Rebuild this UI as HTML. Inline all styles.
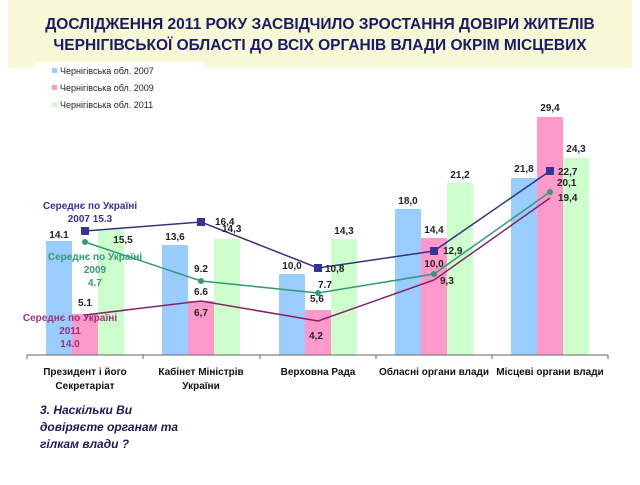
<!DOCTYPE html>
<html><head><meta charset="utf-8"><style>
body{margin:0;width:640px;height:480px;background:#fff;overflow:hidden;font-family:"Liberation Sans",sans-serif}
</style></head><body>
<svg width="640" height="480" xmlns="http://www.w3.org/2000/svg" font-family="Liberation Sans, sans-serif">
<rect x="0" y="0" width="640" height="480" fill="#fff"/>
<rect x="8" y="0" width="624" height="68" fill="#f6f8d6"/>
<text x="320" y="29" text-anchor="middle" font-size="15.5" font-weight="bold" fill="#1a1a66">ДОСЛІДЖЕННЯ 2011 РОКУ ЗАСВІДЧИЛО ЗРОСТАННЯ ДОВІРИ ЖИТЕЛІВ</text>
<text x="320" y="50" text-anchor="middle" font-size="15.5" font-weight="bold" fill="#1a1a66">ЧЕРНІГІВСЬКОЇ ОБЛАСТІ ДО ВСІХ ОРГАНІВ ВЛАДИ ОКРІМ МІСЦЕВИХ</text>
<rect x="34" y="62" width="170" height="52" fill="#fff"/>
<g font-size="9" fill="#222">
<rect x="52" y="68" width="5" height="5" fill="#99ccff"/><text x="60" y="74">Чернігівська обл. 2007</text>
<rect x="52" y="85" width="5" height="5" fill="#ff99cc"/><text x="60" y="91">Чернігівська обл. 2009</text>
<rect x="52" y="102" width="5" height="5" fill="#ccffcc"/><text x="60" y="108">Чернігівська обл. 2011</text>
</g>
<g>
<rect x="46" y="241" width="26" height="114" fill="#99ccff"/><rect x="72" y="314" width="26" height="41" fill="#ff99cc"/><rect x="98" y="229" width="26" height="126" fill="#ccffcc"/>
<rect x="162" y="245" width="26" height="110" fill="#99ccff"/><rect x="188" y="301" width="26" height="54" fill="#ff99cc"/><rect x="214" y="239" width="26" height="116" fill="#ccffcc"/>
<rect x="279" y="274" width="26" height="81" fill="#99ccff"/><rect x="305" y="310" width="26" height="45" fill="#ff99cc"/><rect x="331" y="239" width="26" height="116" fill="#ccffcc"/>
<rect x="395" y="209" width="26" height="146" fill="#99ccff"/><rect x="421" y="238" width="26" height="117" fill="#ff99cc"/><rect x="447" y="183" width="26" height="172" fill="#ccffcc"/>
<rect x="511" y="178" width="26" height="177" fill="#99ccff"/><rect x="537" y="117" width="26" height="238" fill="#ff99cc"/><rect x="563" y="158" width="26" height="197" fill="#ccffcc"/>
</g>
<line x1="27" y1="355" x2="608" y2="355" stroke="#666"/>
<g stroke="#666"><line x1="27" y1="355" x2="27" y2="359"/><line x1="143" y1="355" x2="143" y2="359"/><line x1="260" y1="355" x2="260" y2="359"/><line x1="376" y1="355" x2="376" y2="359"/><line x1="492" y1="355" x2="492" y2="359"/><line x1="608" y1="355" x2="608" y2="359"/></g>
<polyline points="85,231 201,222 318,268 434,251 550,171" fill="none" stroke="#333380" stroke-width="1.5"/>
<g fill="#333399"><rect x="81" y="227" width="8" height="8"/><rect x="197" y="218" width="8" height="8"/><rect x="314" y="264" width="8" height="8"/><rect x="430" y="247" width="8" height="8"/><rect x="546" y="167" width="8" height="8"/></g>
<polyline points="85,242 201,281 318,293 434,274 550,192" fill="none" stroke="#339977" stroke-width="1.5"/>
<g fill="#339977"><circle cx="85" cy="242" r="3"/><circle cx="201" cy="281" r="3"/><circle cx="318" cy="293" r="3"/><circle cx="434" cy="274" r="3"/><circle cx="550" cy="192" r="3"/></g>
<polyline points="85,315 201,301 318,321 434,280 550,198" fill="none" stroke="#882266" stroke-width="1.5"/>
<g font-size="10" font-weight="bold" fill="#222">
<text x="46" y="238" text-anchor="middle" dx="13">14.1</text><text x="123" y="243" text-anchor="middle">15,5</text><text x="85" y="306" text-anchor="middle">5.1</text>
<text x="175" y="240" text-anchor="middle">13,6</text><text x="215" y="225">16,4</text><text x="222" y="232">14,3</text><text x="201" y="272" text-anchor="middle">9.2</text><text x="201" y="295" text-anchor="middle">6.6</text><text x="201" y="316" text-anchor="middle">6,7</text>
<text x="292" y="269" text-anchor="middle">10,0</text><text x="344" y="234" text-anchor="middle">14,3</text><text x="325" y="272">10,8</text><text x="318" y="288">7.7</text><text x="310" y="302">5,6</text><text x="309" y="339">4,2</text>
<text x="408" y="204" text-anchor="middle">18,0</text><text x="434" y="233" text-anchor="middle">14,4</text><text x="460" y="178" text-anchor="middle">21,2</text><text x="443" y="254">12,9</text><text x="434" y="267" text-anchor="middle">10,0</text><text x="440" y="284">9,3</text>
<text x="524" y="172" text-anchor="middle">21,8</text><text x="550" y="111" text-anchor="middle">29,4</text><text x="576" y="152" text-anchor="middle">24,3</text><text x="558" y="175">22,7</text><text x="557" y="186">20,1</text><text x="558" y="201">19,4</text>
</g>
<g font-size="10" font-weight="bold">
<text x="90" y="209" text-anchor="middle" fill="#333399">Середнє по Україні</text><text x="90" y="222" text-anchor="middle" fill="#333399">2007 15.3</text>
<text x="95" y="260" text-anchor="middle" fill="#339977">Середнє по Україні</text><text x="95" y="273" text-anchor="middle" fill="#339977">2009</text><text x="95" y="286" text-anchor="middle" fill="#339977">4.7</text>
<text x="70" y="321" text-anchor="middle" fill="#993377">Середнє по Україні</text><text x="70" y="334" text-anchor="middle" fill="#993377">2011</text><text x="70" y="347" text-anchor="middle" fill="#993377">14.0</text>
</g>
<g font-size="10" font-weight="bold" fill="#111" text-anchor="middle">
<text x="85" y="375">Президент і його</text><text x="85" y="389">Секретаріат</text>
<text x="201" y="375">Кабінет Міністрів</text><text x="201" y="389">України</text>
<text x="318" y="375">Верховна Рада</text>
<text x="434" y="375">Обласні органи влади</text>
<text x="550" y="375">Місцеві органи влади</text>
</g>
<g font-size="12" font-weight="bold" font-style="italic" fill="#1a1a55">
<text x="40" y="414">3.  Наскільки Ви</text><text x="40" y="431">довіряєте органам та</text><text x="40" y="448">гілкам влади ?</text>
</g>
</svg>
</body></html>
